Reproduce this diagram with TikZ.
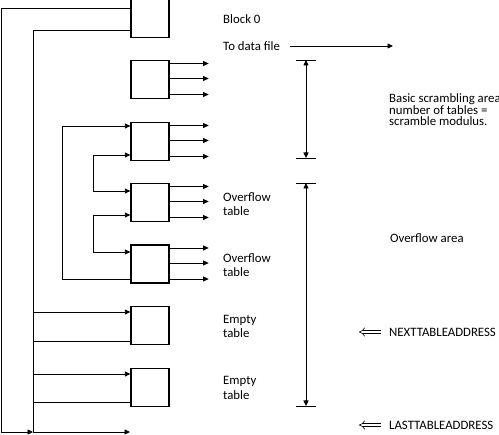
\documentclass[tikz,border=0pt]{standalone}
\usepackage{fontspec}
\setmainfont{Carlito}
\usetikzlibrary{arrows.meta,calc}
\begin{document}
\begin{tikzpicture}[x=1pt,y=-1pt,
  box/.style={draw,line width=1.3pt,minimum width=38pt,minimum height=38pt,inner sep=0pt},
  wire/.style={line width=0.8pt},
  arr/.style={wire,-{Triangle[length=5.5pt,width=5pt]}},
  darr/.style={wire,{Triangle[length=5.5pt,width=5pt]}-{Triangle[length=5.5pt,width=5pt]}},
  lbl/.style={anchor=west,inner sep=0pt,align=left,font=\fontsize{12.8}{14.5}\selectfont},
  tlbl/.style={lbl,font=\fontsize{12.8}{11.5}\selectfont},
  dblarr/.style={line width=0.6pt,double distance=2.6pt,{Implies[length=4pt]}-}]
\useasboundingbox (0,0) rectangle (499,435);
% boxes
\node[box] (b0) at (150,18.5) {};
\node[box] (b1) at (150,79.5) {};
\node[box] (b2) at (150,141.5) {};
\node[box] (b3) at (150,202.5) {};
\node[box] (b4) at (150,264) {};
\node[box] (b5) at (150,325.5) {};
\node[box] (b6) at (150,387.5) {};
% outgoing arrows
\foreach \b in {b1,b2,b3,b4}{
  \foreach \d in {-16,-1,15}{
    \draw[arr] ($(\b.east)+(0,\d)$) -- ++(39,0);
  }
}
% Block 0 loops
\coordinate (c1) at (1,8);
\coordinate (c2) at (33,30);
\coordinate (bot) at (130,432);
\draw[arr] (b0.west |- c1) -- (c1) -- (1,432) -- (33,432);
\draw[arr] (b0.west |- c2) -- (c2) -- (33,432) -- (bot);
\draw[arr] (33,312) -- (b5.west |- 0,312);
\draw[wire] (33,341) -- (b5.west |- 0,341);
\draw[arr] (33,374) -- (b6.west |- 0,374);
\draw[wire] (33,402) -- (b6.west |- 0,402);
% overflow chain
\draw[arr] (b4.west |- 0,279) -- (62,279) -- (62,126) -- (b2.west |- 0,126);
\draw[darr] (b2.west |- 0,155) -- (93,155) -- (93,191) -- (b3.west |- 0,191);
\draw[darr] (b3.west |- 0,215) -- (93,215) -- (93,252) -- (b4.west |- 0,252);
% labels
\node[lbl] (l0) at (223,19) {Block 0};
\node[lbl] (l1) at (223,46) {To data file};
\coordinate (df1) at (290,46);
\coordinate (df2) at (393,46);
\draw[arr] (df1) -- (df2);
\node[lbl] (l2) at (223,204) {Overflow\\table};
\node[lbl] (l3) at (223,265) {Overflow\\table};
\node[lbl] (l4) at (223,326.5) {Empty\\table};
\node[lbl] (l5) at (223,388) {Empty\\table};
\node[tlbl] (l6) at (389,110) {Basic scrambling area\\number of tables =\\scramble modulus.};
\node[lbl] (l7) at (390,238) {Overflow area};
\node[lbl] (l8) at (389,332) {NEXTTABLEADDRESS};
\node[lbl] (l9) at (389,425) {LASTTABLEADDRESS};
\coordinate (p8) at (359,332);
\coordinate (p9) at (359,425);
\draw[dblarr] (p8) -- ($(l8.west)+(-8,0)$);
\draw[dblarr] (p9) -- ($(l9.west)+(-8,0)$);
% dimension lines
\coordinate (t1) at (306,60);
\coordinate (t2) at (306,158);
\coordinate (t3) at (306,183);
\coordinate (t4) at (306,406);
\draw[wire] ($(t1)+(-10,0)$) -- ++(20,0);
\draw[wire] ($(t2)+(-10,0)$) -- ++(20,0);
\draw[wire] ($(t3)+(-10,0)$) -- ++(20,0);
\draw[wire] ($(t4)+(-10,0)$) -- ++(20,0);
\draw[darr] (t1) -- (t2);
\draw[darr] (t3) -- (t4);
\end{tikzpicture}
\end{document}
